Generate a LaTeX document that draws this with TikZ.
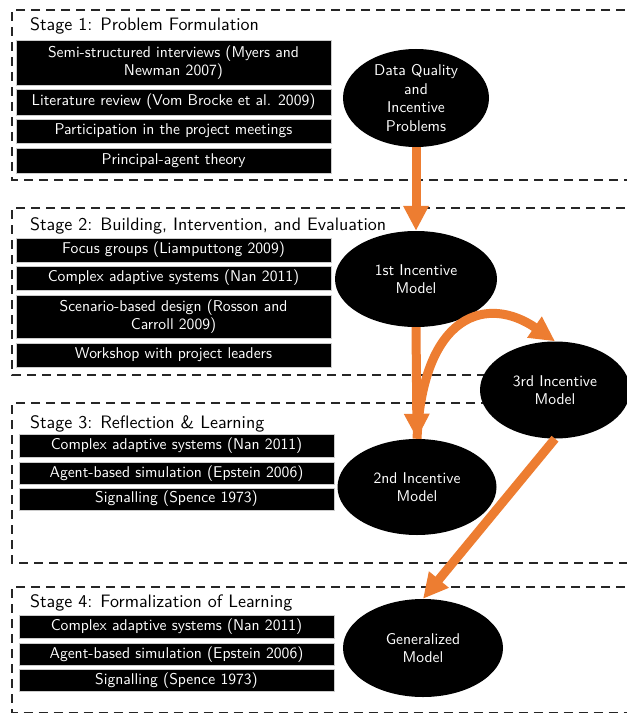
\documentclass[tikz,border=0pt]{standalone}
\usepackage{fontspec}
\newfontfamily\lmsansten{lmsans10-regular.otf}
\usetikzlibrary{shapes.geometric,arrows.meta}
\definecolor{arrorange}{HTML}{ED7D31}
\begin{document}
\begin{tikzpicture}[x=1pt,y=1pt,
  stagebox/.style={draw=black!85, line width=1.8pt, dash pattern=on 9pt off 6pt},
  stagetitle/.style={anchor=base west, inner sep=0, font=\lmsansten\fontsize{18}{21}\selectfont},
  itembox/.style={fill=black, draw=gray!40, line width=0.5pt, text=white, inner sep=0, minimum width=315pt, align=center, font=\lmsansten\fontsize{15.6}{18}\selectfont},
  model/.style={ellipse, fill=black, text=white, inner sep=0, align=center, font=\lmsansten\fontsize{15.6}{18.5}\selectfont},
  flow/.style={draw=arrorange, line width=9pt, -{Triangle[length=25pt,width=24pt]}}
]
\useasboundingbox (0,0) rectangle (626,-714);

% stage frames
\draw[stagebox] (640,-10) -- (12,-10) -- (12,-180) -- (640,-180);
\draw[stagebox] (640,-208) -- (12,-208) -- (12,-375) -- (640,-375);
\draw[stagebox] (640,-403) -- (12,-403) -- (12,-563) -- (640,-563);
\draw[stagebox] (640,-587) -- (12,-587) -- (12,-712.5) -- (640,-712.5);

% titles
\node[stagetitle] (t1) at (30,-31) {Stage 1: Problem Formulation};
\node[stagetitle] (t2) at (30,-230) {Stage 2: Building, Intervention, and Evaluation};
\node[stagetitle] (t3) at (30,-428) {Stage 3: Reflection \& Learning};
\node[stagetitle] (t4) at (30,-607) {Stage 4: Formalization of Learning};

% stage 1 items
\node[itembox, minimum height=45pt] (a1) at (173.5,-62.5) {Semi-structured interviews (Myers and\\Newman 2007)};
\node[itembox, minimum height=26pt] (a2) at (173.5,-102) {Literature review (Vom Brocke et al. 2009)};
\node[itembox, minimum height=24pt] (a3) at (173.5,-131) {Participation in the project meetings};
\node[itembox, minimum height=25pt] (a4) at (173.5,-160.5) {Principal-agent theory};

% stage 2 items
\node[itembox, minimum height=24pt] (b1) at (173.5,-250) {Focus groups (Liamputtong 2009)};
\node[itembox, minimum height=24pt] (b2) at (173.5,-278) {Complex adaptive systems (Nan 2011)};
\node[itembox, minimum height=43pt] (b3) at (173.5,-316.5) {Scenario-based design (Rosson and\\Carroll 2009)};
\node[itembox, minimum height=24pt] (b4) at (173.5,-355) {Workshop with project leaders};

% stage 3 items
\node[itembox, minimum height=23pt] (c1) at (176.5,-445.5) {Complex adaptive systems (Nan 2011)};
\node[itembox, minimum height=22pt] (c2) at (176.5,-473.5) {Agent-based simulation (Epstein 2006)};
\node[itembox, minimum height=22pt] (c3) at (176.5,-499) {Signalling (Spence 1973)};

% stage 4 items
\node[itembox, minimum height=23pt] (d1) at (176.5,-626.5) {Complex adaptive systems (Nan 2011)};
\node[itembox, minimum height=22pt] (d2) at (176.5,-654.5) {Agent-based simulation (Epstein 2006)};
\node[itembox, minimum height=22pt] (d3) at (176.5,-680.5) {Signalling (Spence 1973)};

% models
\node[model, minimum width=146pt, minimum height=98pt, inner ysep=-4pt] (dq) at (416,-98) {Data Quality\\and\\Incentive\\Problems};
\node[model, minimum width=162pt, minimum height=96pt] (m1) at (416,-279) {1st Incentive\\Model};
\node[model, minimum width=150pt, minimum height=97pt] (m3) at (555,-390) {3rd Incentive\\Model};
\node[model, minimum width=159pt, minimum height=96pt] (m2) at (417,-487) {2nd Incentive\\Model};
\node[model, minimum width=160pt, minimum height=98pt] (gen) at (423,-648) {Generalized\\Model};

% flows
\draw[flow] (dq.south) -- (m1.north);
\draw[flow] (m1.south) -- (m2.north);
\draw[flow] (m2.north) .. controls (423,-312) and (488,-295) .. (m3.north);
\draw[flow] (m3.south) -- (gen.north);
\end{tikzpicture}
\end{document}
